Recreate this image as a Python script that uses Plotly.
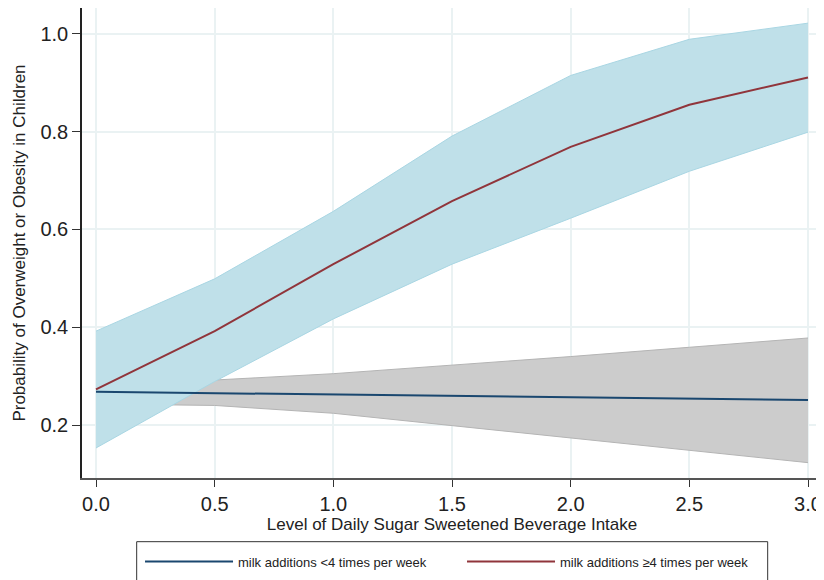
import plotly.graph_objects as go

x_vals = [0.0, 0.5, 1.0, 1.5, 2.0, 2.5, 3.0]

# milk additions <4 times per week
low_mean = [0.268, 0.265, 0.262, 0.259, 0.256, 0.253, 0.251]
low_upper = [0.292, 0.292, 0.305, 0.322, 0.340, 0.359, 0.378]
low_lower = [0.243, 0.240, 0.224, 0.199, 0.173, 0.148, 0.123]

# milk additions >=4 times per week
high_mean = [0.273, 0.392, 0.529, 0.658, 0.769, 0.855, 0.911]
high_upper = [0.392, 0.499, 0.637, 0.791, 0.915, 0.989, 1.022]
high_lower = [0.153, 0.289, 0.417, 0.529, 0.623, 0.719, 0.799]

x_ticks = [0.0, 0.5, 1.0, 1.5, 2.0, 2.5, 3.0]
y_ticks = [0.2, 0.4, 0.6, 0.8, 1.0]

NAVY = "#1a476f"
CRAN = "#90353b"
FONT = "Liberation Sans, Arial, sans-serif"

fig = go.Figure()

# gray CI band
fig.add_trace(go.Scatter(x=x_vals, y=low_upper, mode="lines",
                         line=dict(color="#b4b4b4", width=1), showlegend=False, hoverinfo="skip"))
fig.add_trace(go.Scatter(x=x_vals, y=low_lower, mode="lines", fill="tonexty",
                         fillcolor="#cccccc",
                         line=dict(color="#b4b4b4", width=1), showlegend=False, hoverinfo="skip"))
# blue CI band
fig.add_trace(go.Scatter(x=x_vals, y=high_upper, mode="lines",
                         line=dict(color="#a9d6e3", width=1), showlegend=False, hoverinfo="skip"))
fig.add_trace(go.Scatter(x=x_vals, y=high_lower, mode="lines", fill="tonexty",
                         fillcolor="#bfe0e9",
                         line=dict(color="#a9d6e3", width=1), showlegend=False, hoverinfo="skip"))

fig.add_trace(go.Scatter(x=x_vals, y=low_mean, mode="lines", name="milk additions <4 times per week",
                         line=dict(color=NAVY, width=2)))
fig.add_trace(go.Scatter(x=x_vals, y=high_mean, mode="lines", name="milk additions ≥4 times per week",
                         line=dict(color=CRAN, width=2)))

# page has an 8px body margin: figure is sized so the plot sits where the reference's does
fig.update_layout(
    width=816, height=572,
    margin=dict(l=74, r=2, t=0, b=102, autoexpand=False),
    paper_bgcolor="white", plot_bgcolor="white",
    font=dict(family=FONT, color="#222"),
    showlegend=True,
    legend=dict(
        orientation="h", x=0.0784, xanchor="left", y=-0.178, yanchor="middle",
        borderwidth=0, bgcolor="rgba(255,255,255,0)",
        font=dict(size=13, family=FONT, color="#222"),
        traceorder="normal",
        entrywidth=219, itemwidth=88,
    ),
    shapes=[dict(type="rect", xref="paper", yref="paper",
                 x0=0.0739, x1=0.9266, y0=-0.1355, y1=-0.26,
                 line=dict(color="#333", width=1), fillcolor="rgba(0,0,0,0)", layer="above")],
)
fig.update_xaxes(
    range=[-0.059, 3.059], tickvals=x_ticks, ticktext=[f"{v:.1f}" for v in x_ticks],
    showgrid=True, gridcolor="#eaf2f3", gridwidth=1.5, zeroline=False,
    showline=True, linecolor="#555", linewidth=1.5,
    ticks="outside", ticklen=7, tickcolor="#333", automargin=False,
    tickfont=dict(size=20, family=FONT, color="#222"),
    title=dict(text="Level of Daily Sugar Sweetened Beverage Intake",
               font=dict(size=17, family=FONT, color="#222"), standoff=1),
)
fig.update_yaxes(
    range=[0.0916, 1.053], tickvals=y_ticks, ticktext=[f"{v:.1f}" for v in y_ticks],
    showgrid=True, gridcolor="#eaf2f3", gridwidth=1.5, zeroline=False,
    showline=True, linecolor="#222", linewidth=1.5,
    ticks="outside", ticklen=8, tickcolor="#333", automargin=False,
    tickfont=dict(size=20, family=FONT, color="#222"),
    title=dict(text="Probability of Overweight or Obesity in Children",
               font=dict(size=17, family=FONT, color="#222"), standoff=10),
)

fig.write_html("out.html")
